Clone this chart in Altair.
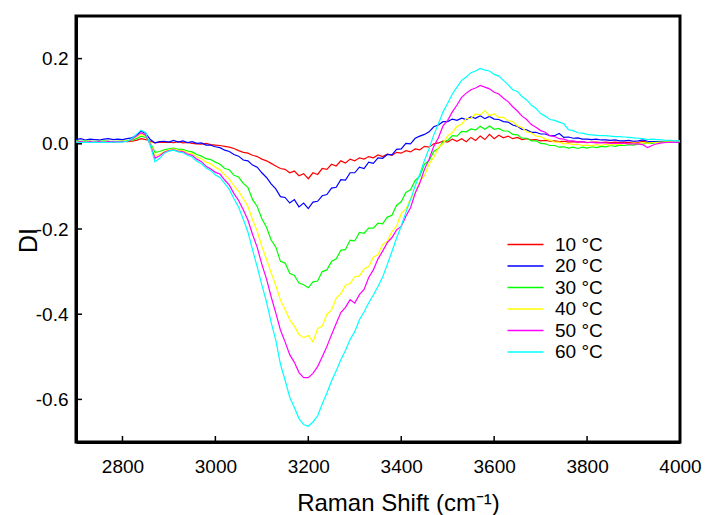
import altair as alt
import pandas as pd

# Raman shift grid (cm-1), every 10 from 2700 to 4000
shift = list(range(2700, 4001, 10))

t10 = [
    0.006, 0.005, 0.004, 0.006, 0.005, 0.004, 0.005, 0.006, 0.004, 0.005,
    0.006, 0.005, 0.006, 0.008, 0.012, 0.010, 0.006, 0.002, 0.004, 0.003,
    0.004, 0.003, 0.005, 0.002, 0.003, 0.001, 0.000, -0.001, 0.001, -0.002,
    -0.003, -0.004, -0.006, -0.008, -0.011, -0.016, -0.020, -0.022, -0.027, -0.030,
    -0.036, -0.040, -0.046, -0.052, -0.058, -0.060, -0.068, -0.064, -0.075, -0.070,
    -0.082, -0.068, -0.072, -0.058, -0.060, -0.048, -0.052, -0.040, -0.045, -0.036,
    -0.040, -0.033, -0.036, -0.030, -0.033, -0.026, -0.030, -0.024, -0.027, -0.020,
    -0.022, -0.016, -0.019, -0.012, -0.014, -0.006, -0.008, 0.000, 0.002, 0.006,
    0.004, 0.011, 0.006, 0.012, 0.005, 0.015, 0.008, 0.018, 0.010, 0.022,
    0.012, 0.020, 0.014, 0.018, 0.012, 0.015, 0.010, 0.012, 0.009, 0.010,
    0.007, 0.008, 0.006, 0.007, 0.005, 0.006, 0.004, 0.005, 0.004, 0.005,
    0.003, 0.004, 0.004, 0.003, 0.004, 0.003, 0.004, 0.003, 0.004, 0.003,
    0.004, 0.003, 0.006, 0.003, 0.004, 0.004, 0.005, 0.005, 0.006, 0.006,
    0.006,
]

t20 = [
    0.010, 0.012, 0.009, 0.011, 0.010, 0.009, 0.011, 0.012, 0.010, 0.011,
    0.010, 0.012, 0.014, 0.020, 0.030, 0.024, 0.010, 0.002, 0.005, 0.006,
    0.004, 0.008, 0.004, 0.007, 0.003, 0.005, 0.001, 0.002, -0.003, -0.003,
    -0.007, -0.009, -0.015, -0.018, -0.025, -0.029, -0.038, -0.040, -0.050, -0.055,
    -0.068, -0.079, -0.094, -0.106, -0.124, -0.126, -0.139, -0.131, -0.148, -0.139,
    -0.152, -0.137, -0.135, -0.122, -0.119, -0.104, -0.102, -0.084, -0.085, -0.068,
    -0.068, -0.055, -0.058, -0.043, -0.046, -0.033, -0.034, -0.025, -0.026, -0.013,
    -0.012, 0.001, 0.000, 0.013, 0.018, 0.022, 0.028, 0.040, 0.044, 0.052,
    0.052, 0.058, 0.055, 0.060, 0.057, 0.063, 0.060, 0.066, 0.059, 0.064,
    0.058, 0.057, 0.052, 0.051, 0.044, 0.041, 0.034, 0.033, 0.027, 0.027,
    0.023, 0.023, 0.019, 0.019, 0.024, 0.015, 0.016, 0.013, 0.014, 0.011,
    0.011, 0.010, 0.011, 0.009, 0.009, 0.008, 0.009, 0.007, 0.007, 0.008,
    0.006, 0.007, 0.009, 0.006, 0.005, 0.005, 0.005, 0.004, 0.004, 0.004,
    0.004,
]

t30 = [
    0.007, 0.006, 0.007, 0.006, 0.005, 0.006, 0.007, 0.006, 0.005, 0.006,
    0.006, 0.007, 0.008, 0.012, 0.018, 0.015, 0.002, -0.020, -0.018, -0.014,
    -0.012, -0.010, -0.013, -0.013, -0.017, -0.019, -0.025, -0.029, -0.035, -0.037,
    -0.043, -0.048, -0.058, -0.061, -0.074, -0.078, -0.093, -0.102, -0.131, -0.147,
    -0.176, -0.196, -0.226, -0.242, -0.276, -0.280, -0.304, -0.309, -0.327, -0.331,
    -0.338, -0.324, -0.322, -0.300, -0.296, -0.276, -0.270, -0.250, -0.248, -0.226,
    -0.228, -0.208, -0.210, -0.198, -0.198, -0.186, -0.188, -0.172, -0.168, -0.144,
    -0.136, -0.114, -0.108, -0.086, -0.076, -0.048, -0.040, -0.018, -0.011, 0.005,
    0.008, 0.019, 0.018, 0.029, 0.028, 0.035, 0.032, 0.041, 0.034, 0.042,
    0.034, 0.036, 0.030, 0.030, 0.022, 0.021, 0.013, 0.013, 0.007, 0.007,
    0.001, 0.000, -0.004, -0.004, -0.008, -0.007, -0.010, -0.008, -0.011, -0.008,
    -0.010, -0.007, -0.009, -0.006, -0.007, -0.004, -0.006, -0.003, -0.004, -0.002,
    -0.003, 0.000, -0.001, 0.002, 0.001, 0.004, 0.003, 0.005, 0.006, 0.006,
    0.007,
]

t40 = [
    0.006, 0.005, 0.006, 0.005, 0.006, 0.005, 0.006, 0.005, 0.006, 0.006,
    0.006, 0.007, 0.010, 0.016, 0.022, 0.018, 0.000, -0.028, -0.024, -0.018,
    -0.014, -0.012, -0.015, -0.016, -0.021, -0.023, -0.031, -0.035, -0.043, -0.047,
    -0.055, -0.061, -0.073, -0.083, -0.099, -0.111, -0.129, -0.147, -0.179, -0.205,
    -0.241, -0.271, -0.303, -0.333, -0.367, -0.389, -0.413, -0.428, -0.448, -0.455,
    -0.450, -0.465, -0.434, -0.428, -0.400, -0.390, -0.362, -0.352, -0.332, -0.328,
    -0.312, -0.310, -0.294, -0.288, -0.266, -0.260, -0.236, -0.229, -0.206, -0.193,
    -0.164, -0.153, -0.128, -0.115, -0.088, -0.075, -0.047, -0.032, -0.009, 0.000,
    0.019, 0.026, 0.041, 0.046, 0.059, 0.060, 0.070, 0.068, 0.078, 0.066,
    0.070, 0.062, 0.062, 0.054, 0.052, 0.042, 0.038, 0.028, 0.026, 0.018,
    0.017, 0.011, 0.009, 0.004, 0.004, 0.000, 0.001, -0.002, -0.001, -0.004,
    -0.003, -0.005, -0.002, -0.004, -0.001, -0.003, 0.000, -0.002, 0.001, 0.000,
    0.002, 0.001, 0.003, 0.001, 0.003, 0.003, 0.004, 0.004, 0.005, 0.005,
    0.006,
]

t50 = [
    0.004, 0.005, 0.004, 0.005, 0.004, 0.005, 0.004, 0.005, 0.005, 0.005,
    0.005, 0.006, 0.010, 0.018, 0.026, 0.020, -0.002, -0.034, -0.028, -0.020,
    -0.016, -0.014, -0.017, -0.018, -0.024, -0.027, -0.036, -0.042, -0.053, -0.059,
    -0.067, -0.071, -0.085, -0.097, -0.117, -0.133, -0.155, -0.179, -0.213, -0.243,
    -0.283, -0.317, -0.359, -0.397, -0.437, -0.465, -0.495, -0.513, -0.537, -0.549,
    -0.549, -0.539, -0.523, -0.500, -0.476, -0.448, -0.422, -0.396, -0.384, -0.366,
    -0.374, -0.354, -0.342, -0.314, -0.296, -0.270, -0.252, -0.232, -0.220, -0.202,
    -0.194, -0.170, -0.150, -0.116, -0.092, -0.060, -0.036, -0.006, 0.014, 0.042,
    0.055, 0.075, 0.091, 0.109, 0.119, 0.127, 0.131, 0.137, 0.133, 0.129,
    0.121, 0.117, 0.107, 0.099, 0.087, 0.077, 0.065, 0.057, 0.045, 0.039,
    0.031, 0.027, 0.019, 0.017, 0.012, 0.011, 0.007, 0.007, 0.004, 0.005,
    0.003, 0.003, 0.002, 0.002, 0.002, 0.001, 0.001, 0.001, 0.001, 0.000,
    0.000, 0.000, -0.002, -0.009, -0.004, 0.000, 0.002, 0.003, 0.004, 0.004,
    0.004,
]

t60 = [
    0.004, 0.003, 0.004, 0.003, 0.004, 0.003, 0.004, 0.003, 0.004, 0.004,
    0.004, 0.006, 0.012, 0.022, 0.032, 0.026, -0.004, -0.042, -0.034, -0.022,
    -0.017, -0.015, -0.019, -0.021, -0.027, -0.031, -0.041, -0.047, -0.057, -0.063,
    -0.073, -0.079, -0.093, -0.107, -0.129, -0.149, -0.177, -0.207, -0.249, -0.289,
    -0.331, -0.371, -0.419, -0.461, -0.517, -0.555, -0.595, -0.619, -0.645, -0.659,
    -0.663, -0.653, -0.639, -0.611, -0.585, -0.557, -0.533, -0.507, -0.485, -0.459,
    -0.441, -0.413, -0.395, -0.373, -0.355, -0.335, -0.313, -0.283, -0.253, -0.221,
    -0.193, -0.161, -0.131, -0.099, -0.071, -0.039, -0.011, 0.021, 0.047, 0.075,
    0.095, 0.117, 0.133, 0.149, 0.157, 0.167, 0.171, 0.177, 0.173, 0.171,
    0.163, 0.159, 0.149, 0.139, 0.127, 0.123, 0.111, 0.103, 0.091, 0.083,
    0.071, 0.065, 0.057, 0.055, 0.051, 0.047, 0.033, 0.031, 0.026, 0.025,
    0.022, 0.021, 0.020, 0.019, 0.019, 0.018, 0.017, 0.017, 0.016, 0.015,
    0.014, 0.013, 0.012, 0.010, 0.011, 0.010, 0.009, 0.008, 0.008, 0.007,
    0.007,
]

series_names = ["10 °C", "20 °C", "30 °C", "40 °C", "50 °C", "60 °C"]
series_values = [t10, t20, t30, t40, t50, t60]
series_colors = ["#ff0000", "#0000ff", "#00ff00", "#ffff00", "#ff00ff", "#00ffff"]

x_ticks = [2800, 3000, 3200, 3400, 3600, 3800, 4000]
y_ticks = [-0.6, -0.4, -0.2, 0.0, 0.2]

rows = []
for name, vals in zip(series_names, series_values):
    for s, v in zip(shift, vals):
        rows.append({"shift": s, "DI": v, "T": name})
df = pd.DataFrame(rows)

FONT = "Liberation Sans"
W, H = 604, 426
xs = alt.Scale(domain=[2700, 4000], nice=False, zero=False)
ys = alt.Scale(domain=[-0.7, 0.3], nice=False, zero=False)

lines = alt.Chart(df).mark_line(strokeWidth=1.2, clip=True).encode(
    x=alt.X("shift:Q", scale=xs, axis=alt.Axis(
        values=x_ticks, format="d", title="Raman Shift (cm⁻¹)", labelFlush=False,
        ticks=False, tickSize=0, grid=False, labelPadding=15,
        labelFontSize=19, labelFont=FONT, labelColor="black",
        domainColor="black", domainWidth=3,
        titleFont=FONT, titleFontSize=24, titleFontWeight="normal", titleColor="black",
        titleX=322, titleY=68, titleBaseline="alphabetic", titleAlign="center")),
    y=alt.Y("DI:Q", scale=ys, axis=alt.Axis(
        values=y_ticks, title="DI", ticks=False, tickSize=0, grid=False, labelPadding=8,
        labelExpr="(datum.value < 0 ? '-' : '') + format(abs(datum.value), '.1f')",
        labelFontSize=19, labelFont=FONT, labelColor="black",
        domainColor="black", domainWidth=3,
        titleFont=FONT, titleFontSize=25, titleFontWeight="normal", titleColor="black",
        titleX=-40, titleY=224, titleAngle=-90, titleBaseline="alphabetic", titleAlign="center")),
    color=alt.Color("T:N", sort=series_names,
                    scale=alt.Scale(domain=series_names, range=series_colors),
                    legend=alt.Legend(title=None, orient="none", legendX=440, legendY=219,
                                      symbolType="M-3.6,0H3.6", symbolSize=100,
                                      symbolStrokeWidth=1.5, labelFontSize=19,
                                      labelFont=FONT, labelColor="black",
                                      labelOffset=20, rowPadding=1.5)),
    order=alt.Order("shift:Q"),
)

xt = pd.DataFrame({"v": x_ticks})
yt = pd.DataFrame({"v": y_ticks})
xtick_marks = alt.Chart(xt).mark_rule(color="black", strokeWidth=1.5).encode(
    x=alt.X("v:Q", scale=xs), y=alt.value(H), y2=alt.value(H - 6))
ytick_marks = alt.Chart(yt).mark_rule(color="black", strokeWidth=1.5).encode(
    y=alt.Y("v:Q", scale=ys), x=alt.value(0), x2=alt.value(6))

chart = alt.layer(lines, xtick_marks, ytick_marks).properties(
    width=W, height=H,
    background="white",
    autosize=alt.AutoSizeParams(type="none"),
    padding={"left": 76, "top": 16, "right": 27, "bottom": 73},
).configure_view(stroke="black", strokeWidth=3)

chart.save("out.html", embed_options={"renderer": "svg", "actions": False})
